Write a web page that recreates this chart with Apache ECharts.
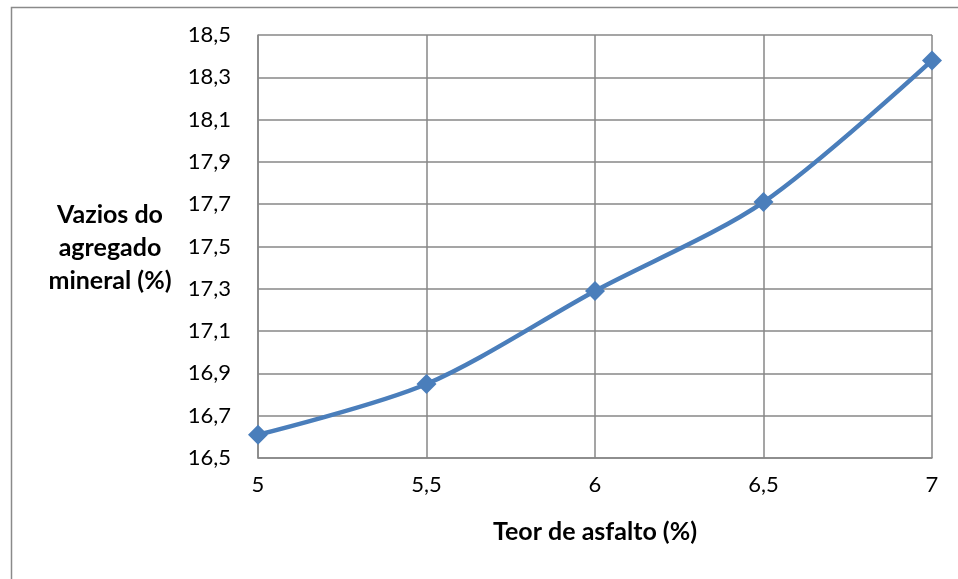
<!DOCTYPE html>
<html>
<head>
<meta charset="utf-8">
<script src="https://cdn.jsdelivr.net/npm/echarts@6/dist/echarts.min.js"></script>
<style>
  html, body { margin: 0; padding: 0; background: #fff; }
  #chart { width: 958px; height: 579px; }
</style>
</head>
<body>
<div id="chart"></div>
<script>
// Asphalt content (%) vs. voids in mineral aggregate (%)
const teorAsfalto = [5, 5.5, 6, 6.5, 7];
const vazios = [16.61, 16.85, 17.29, 17.71, 18.38];

const xAxisTitle = 'Teor de asfalto (%)';
const yAxisTitle = 'Vazios do\nagregado\nmineral (%)';

const fontFamily = 'Lato, "Open Sans", "Noto Sans", sans-serif';
const fmt = v => String(Math.round(v * 10) / 10).replace('.', ',');

const chart = echarts.init(document.getElementById('chart'), null, { renderer: 'canvas' });

chart.setOption({
  backgroundColor: '#ffffff',
  animation: false,
  grid: { left: 258, right: 26, top: 35, bottom: 121 },
  xAxis: {
    type: 'value',
    min: 5, max: 7, interval: 0.5,
    axisLine: { show: true, lineStyle: { color: '#878787', width: 1.5 } },
    axisTick: { show: false },
    splitLine: { show: true, lineStyle: { color: '#878787', width: 1.5 } },
    axisLabel: { formatter: fmt, color: '#000', fontSize: 22, fontFamily, margin: 16 }
  },
  yAxis: {
    type: 'value',
    min: 16.5, max: 18.5, interval: 0.2,
    axisLine: { show: true, lineStyle: { color: '#878787', width: 1.5 } },
    axisTick: { show: false },
    splitLine: { show: true, lineStyle: { color: '#878787', width: 1.5 } },
    axisLabel: { formatter: fmt, color: '#000', fontSize: 22, fontFamily, margin: 27 }
  },
  graphic: [
    {
      type: 'rect', left: 9, top: 5, silent: true,
      shape: { width: 1000, height: 1000 },
      style: { fill: 'none', stroke: '#8a8a8a', lineWidth: 1.5 }
    },
    {
      type: 'text', silent: true,
      style: {
        text: xAxisTitle, x: 595, y: 532,
        textAlign: 'center', textVerticalAlign: 'middle',
        fill: '#000', font: 'bold 25px ' + fontFamily
      }
    },
    {
      type: 'text', silent: true,
      style: {
        text: yAxisTitle, x: 110, y: 248,
        textAlign: 'center', textVerticalAlign: 'middle',
        fill: '#000', font: 'bold 25px ' + fontFamily, lineHeight: 33
      }
    }
  ],
  series: [{
    type: 'line',
    data: teorAsfalto.map((x, i) => [x, vazios[i]]),
    smooth: 0.3,
    symbol: 'diamond',
    symbolSize: 20,
    lineStyle: { color: '#4a7ebb', width: 4.5 },
    itemStyle: { color: '#4a7ebb' }
  }]
});
</script>
</body>
</html>
